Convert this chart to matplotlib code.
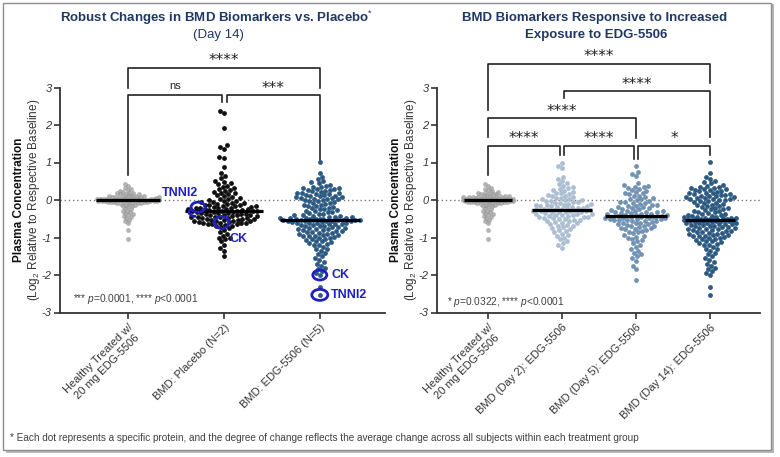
import numpy as np
import matplotlib
matplotlib.use('Agg')
import matplotlib.pyplot as plt
from matplotlib.patches import Ellipse, Arc, Rectangle

plt.rcParams['font.family'] = ['Liberation Sans', 'DejaVu Sans']
plt.rcParams['mathtext.fontset'] = 'custom'
plt.rcParams['mathtext.rm'] = 'Liberation Sans'
plt.rcParams['mathtext.it'] = 'Liberation Sans:italic'
plt.rcParams['mathtext.bf'] = 'Liberation Sans:bold'

# log2 change per protein
healthy = [0.42, 0.38, 0.33, 0.3, 0.28, 0.25, 0.22, 0.2, 0.2, 0.18, 0.17, 0.15, 0.15, 0.14,
           0.12, 0.12, 0.11, 0.1, 0.1, 0.09, 0.08, 0.08, 0.07, 0.07, 0.06, 0.06, 0.05, 0.05,
           0.05, 0.04, 0.04, 0.04, 0.03, 0.03, 0.03, 0.03, 0.02, 0.02, 0.02, 0.02, 0.01, 0.01,
           0.01, 0.01, 0.0, 0.0, 0.0, 0.0, 0.0, 0.0, -0.01, -0.01, -0.01, -0.01, -0.02, -0.02,
           -0.02, -0.02, -0.03, -0.03, -0.03, -0.04, -0.04, -0.04, -0.05, -0.05, -0.06, -0.06,
           -0.07, -0.07, -0.08, -0.09, -0.1, -0.11, -0.12, -0.13, -0.15, -0.17, -0.19, -0.22,
           -0.25, -0.28, -0.3, -0.33, -0.35, -0.38, -0.4, -0.43, -0.45, -0.48, -0.52, -0.56,
           -0.6, -0.8, -1.04]
placebo = [2.37, 2.33, 1.92, 1.47, 1.42, 1.37, 1.16, 1.13, 0.89, 0.72, 0.65, 0.58, 0.52, 0.48,
           0.45, 0.42, 0.38, 0.35, 0.33, 0.3, 0.28, 0.25, 0.22, 0.2, 0.18, 0.15, 0.13, 0.1,
           0.08, 0.05, 0.03, 0.02, 0.0, -0.02, -0.03, -0.05, -0.06, -0.08, -0.09, -0.1, -0.11,
           -0.12, -0.13, -0.14, -0.15, -0.16, -0.17, -0.18, -0.19, -0.2, -0.2, -0.21, -0.22,
           -0.23, -0.24, -0.25, -0.25, -0.26, -0.27, -0.28, -0.28, -0.29, -0.3, -0.3, -0.31,
           -0.32, -0.33, -0.34, -0.35, -0.35, -0.36, -0.37, -0.38, -0.39, -0.4, -0.4, -0.41,
           -0.42, -0.43, -0.44, -0.45, -0.45, -0.46, -0.47, -0.48, -0.49, -0.5, -0.5, -0.51,
           -0.52, -0.53, -0.54, -0.55, -0.55, -0.56, -0.57, -0.58, -0.59, -0.6, -0.6, -0.61,
           -0.62, -0.63, -0.64, -0.65, -0.66, -0.68, -0.7, -0.72, -0.75, -0.8, -0.85, -0.9,
           -0.95, -1.0, -1.02, -1.05, -1.1, -1.2, -1.28, -1.35, -1.49]
day2 = [0.98, 0.9, 0.85, 0.62, 0.55, 0.5, 0.45, 0.42, 0.38, 0.35, 0.32, 0.3, 0.28, 0.25, 0.22,
        0.2, 0.18, 0.16, 0.14, 0.12, 0.1, 0.08, 0.06, 0.05, 0.03, 0.02, 0.0, -0.01, -0.02,
        -0.03, -0.05, -0.06, -0.07, -0.08, -0.1, -0.11, -0.12, -0.13, -0.14, -0.15, -0.16,
        -0.17, -0.18, -0.19, -0.2, -0.21, -0.22, -0.23, -0.24, -0.25, -0.26, -0.26, -0.27,
        -0.27, -0.28, -0.28, -0.29, -0.3, -0.31, -0.32, -0.33, -0.34, -0.35, -0.36, -0.37,
        -0.38, -0.39, -0.4, -0.41, -0.42, -0.43, -0.44, -0.45, -0.46, -0.47, -0.48, -0.5,
        -0.51, -0.52, -0.53, -0.55, -0.56, -0.58, -0.6, -0.62, -0.64, -0.66, -0.68, -0.7,
        -0.72, -0.75, -0.78, -0.8, -0.83, -0.86, -0.9, -0.93, -0.96, -1.0, -1.05, -1.1,
        -1.15, -1.2, -1.27]
day5 = [0.9, 0.75, 0.7, 0.65, 0.45, 0.4, 0.38, 0.36, 0.35, 0.33, 0.3, 0.28, 0.25, 0.22, 0.2,
        0.18, 0.15, 0.12, 0.1, 0.08, 0.05, 0.03, 0.02, 0.0, -0.02, -0.04, -0.05, -0.07, -0.08,
        -0.1, -0.12, -0.13, -0.15, -0.16, -0.18, -0.19, -0.2, -0.22, -0.23, -0.25, -0.26,
        -0.28, -0.29, -0.3, -0.31, -0.32, -0.33, -0.34, -0.35, -0.36, -0.37, -0.38, -0.39,
        -0.4, -0.41, -0.42, -0.42, -0.43, -0.44, -0.44, -0.45, -0.45, -0.46, -0.47, -0.47,
        -0.48, -0.49, -0.5, -0.5, -0.51, -0.52, -0.52, -0.53, -0.55, -0.55, -0.56, -0.58,
        -0.6, -0.6, -0.62, -0.64, -0.65, -0.66, -0.68, -0.7, -0.7, -0.72, -0.74, -0.75,
        -0.76, -0.78, -0.8, -0.83, -0.85, -0.86, -0.89, -0.92, -0.95, -0.98, -1.0, -1.03,
        -1.06, -1.1, -1.15, -1.2, -1.25, -1.3, -1.35, -1.4, -1.45, -1.5, -1.55, -1.62,
        -1.75, -1.85, -2.13]
day14 = [1.02, 0.73, 0.62, 0.57, 0.5, 0.47, 0.45, 0.4, 0.38, 0.36, 0.35, 0.33, 0.32, 0.3, 0.3,
         0.28, 0.27, 0.25, 0.23, 0.22, 0.2, 0.2, 0.18, 0.17, 0.15, 0.14, 0.13, 0.12, 0.1, 0.1,
         0.08, 0.07, 0.06, 0.05, 0.04, 0.03, 0.02, 0.01, 0.0,
         -0.02, -0.03, -0.05, -0.07, -0.08, -0.1, -0.12, -0.13, -0.15, -0.17, -0.18, -0.2,
         -0.22, -0.23, -0.25, -0.27, -0.28, -0.3, -0.32, -0.33, -0.35, -0.37, -0.38, -0.4,
         -0.41, -0.42, -0.43, -0.44, -0.45, -0.46, -0.47, -0.48, -0.48, -0.49, -0.5, -0.5,
         -0.5, -0.51, -0.51, -0.52, -0.52, -0.52, -0.53, -0.53, -0.54, -0.54, -0.55, -0.55,
         -0.56, -0.56, -0.57, -0.58, -0.58, -0.6, -0.6, -0.62, -0.62, -0.63, -0.64, -0.65,
         -0.66, -0.67, -0.68, -0.7, -0.7, -0.72, -0.73, -0.74, -0.75, -0.76, -0.77, -0.78,
         -0.8, -0.8, -0.82, -0.83, -0.85, -0.85, -0.87, -0.88, -0.9, -0.9, -0.92, -0.93,
         -0.95, -0.95, -0.97, -0.98, -1.0, -1.0, -1.03, -1.05, -1.06, -1.1, -1.1, -1.13,
         -1.15, -1.17, -1.2, -1.2, -1.25, -1.3, -1.3, -1.35, -1.4, -1.45, -1.5, -1.55, -1.6,
         -1.65, -1.7, -1.75, -1.8, -1.85, -1.9, -1.95, -2.0, -2.33, -2.53]

left_labels = ['Healthy Treated w/\n20 mg EDG-5506', 'BMD: Placebo (N=2)', 'BMD: EDG-5506 (N=5)']
right_labels = ['Healthy Treated w/\n20 mg EDG-5506', 'BMD (Day 2): EDG-5506',
                'BMD (Day 5): EDG-5506', 'BMD (Day 14): EDG-5506']

# brackets: (x1, x2, y, left leg bottom, right leg bottom, label)
left_brackets = [(0, 2, 3.53, 3.0, 3.0, '****'),
                 (0, 0.975, 2.8, 0.67, 2.62, 'ns'),
                 (1.03, 2, 2.8, 2.62, 1.07, '***')]
right_brackets = [(0, 3, 3.64, 2.4, 3.11, '****'),
                  (1.03, 3, 2.91, 2.71, 1.67, '****'),
                  (0, 2, 2.18, 1.69, 1.65, '****'),
                  (0, 0.97, 1.45, 0.67, 1.2, '****'),
                  (1.03, 1.97, 1.45, 1.2, 1.09, '****'),
                  (2.03, 3, 1.45, 1.09, 1.2, '*')]

GREY = '#9b9b9b'
NAVY = '#1f3864'
BLUE = '#2020c0'
TXT = '#333333'


def swarm(ypx, d, half):
    order = np.argsort(ypx)
    px, py = [], []
    offs = np.zeros(len(ypx))
    for i in order:
        y = ypx[i]
        near = [(a, b) for a, b in zip(px, py) if abs(b - y) < d]
        cands = [0.0]
        for a, b in near:
            dx = np.sqrt(d * d - (b - y) ** 2)
            cands += [a - dx, a + dx]
        cands = sorted(cands, key=abs)
        best = None
        for c in cands:
            if abs(c) > half:
                continue
            if all((c - a) ** 2 + (y - b) ** 2 >= d * d - 1e-6 for a, b in near):
                best = c
                break
        if best is None:
            grid = np.linspace(-half, half, 25)
            score = [min(np.hypot(g - a, y - b) for a, b in near) - 0.01 * abs(g) for g in grid]
            best = grid[int(np.argmax(score))]
        offs[i] = best
        px.append(best)
        py.append(y)
    return offs


def draw_group(ax, values, pos, color, alpha, d, half, line_half):
    vals = np.asarray(values, float)
    pts = ax.transData.transform(np.column_stack([np.full(len(vals), pos), vals]))
    offs = swarm(pts[:, 1], d, half)
    xy = ax.transData.inverted().transform(np.column_stack([pts[:, 0] + offs, pts[:, 1]]))
    ax.scatter(xy[:, 0], vals, s=12, color=color, alpha=alpha, lw=0, zorder=3)
    med = np.median(vals)
    ax.plot([pos - line_half, pos + line_half], [med, med], color='black', lw=2.3,
            zorder=4, solid_capstyle='butt')


def draw_brackets(ax, brackets):
    for x1, x2, y, b1, b2, lab in brackets:
        ax.plot([x1, x1, x2, x2], [b1, y, y, b2], color='#222222', lw=1.2, clip_on=False,
                zorder=2)
        if lab == 'ns':
            ax.text((x1 + x2) / 2, y + 0.1, lab, ha='center', va='bottom', fontsize=8,
                    color='#222222')
        else:
            ax.text((x1 + x2) / 2, y - 0.02, lab, ha='center', va='bottom', fontsize=11,
                    color='#222222', family=['DejaVu Sans'])


def style_axes(ax, labels, xlim):
    ax.set_xlim(*xlim)
    ax.set_ylim(-3, 3)
    for s in ['top', 'right']:
        ax.spines[s].set_visible(False)
    for s in ['left', 'bottom']:
        ax.spines[s].set_color('#333333')
        ax.spines[s].set_linewidth(1.3)
    ax.set_yticks(range(-3, 4))
    ax.set_yticklabels([str(v) for v in range(-3, 4)], fontstyle='italic', fontsize=8,
                       color=TXT)
    ax.set_xticks(range(len(labels)))
    ax.set_xticklabels(labels, rotation=45, ha='right', va='top', rotation_mode='anchor',
                       fontsize=8, color=TXT, multialignment='center')
    ax.tick_params(axis='both', length=4, width=1.2, color='#333333', pad=2)
    ax.tick_params(axis='x', pad=3)
    ax.axhline(0, color='#777777', lw=1, ls=(0, (1, 2)), zorder=1)


fig = plt.figure(figsize=(7.8, 4.57), dpi=100)
W, H = 780.0, 457.0

# frame with shadow
fig.patches.append(Rectangle((6 / W, 1 - 453 / H), 768 / W, 449 / H, transform=fig.transFigure,
                             facecolor='#b8b8b8', edgecolor='none', zorder=-3))
fig.patches.append(Rectangle((3 / W, 1 - 450 / H), 768 / W, 447 / H, transform=fig.transFigure,
                             facecolor='white', edgecolor='#8c8c8c', lw=1, zorder=-2))

ax1 = fig.add_axes([60 / W, 1 - 312.5 / H, 325 / W, 225 / H])
ax2 = fig.add_axes([437 / W, 1 - 312.5 / H, 323 / W, 225 / H])
style_axes(ax1, left_labels, (-0.71, 2.68))
style_axes(ax2, right_labels, (-0.69, 3.68))

draw_group(ax1, healthy, 0, GREY, 0.75, 3.2, 31, 0.33)
draw_group(ax1, placebo, 1, '#111111', 1.0, 4.6, 39, 0.41)
draw_group(ax1, day14, 2, '#2d5a83', 1.0, 4.6, 40, 0.42)

draw_group(ax2, healthy, 0, GREY, 0.75, 3.2, 25, 0.33)
draw_group(ax2, day2, 1, '#a8bbd0', 0.95, 4.6, 31, 0.41)
draw_group(ax2, day5, 2, '#6b8db0', 0.95, 4.6, 31, 0.42)
draw_group(ax2, day14, 3, '#2d5a83', 1.0, 4.6, 26, 0.34)

draw_brackets(ax1, left_brackets)
draw_brackets(ax2, right_brackets)

# highlighted proteins
sx1 = 96.0
sy1 = 37.5
for (x, y, w, h) in [(0.73, -0.19, 14, 10), (0.976, -0.6, 15, 12), (2.0, -2.0, 14, 10),
                     (2.0, -2.53, 16, 11)]:
    ax1.add_patch(Ellipse((x, y), w / sx1, h / sy1, fill=False, edgecolor=BLUE, lw=2,
                          zorder=5, clip_on=False))
ax1.add_patch(Arc((0.71, -0.33), 14 / sx1, 8 / sy1, theta1=110, theta2=270, edgecolor=BLUE,
                  lw=2, zorder=5))
ax1.text(0.35, 0.19, 'TNNI2', color=BLUE, fontsize=9, fontweight='bold', ha='left',
         va='center')
ax1.text(1.06, -1.04, 'CK', color=BLUE, fontsize=9, fontweight='bold', ha='left', va='center')
ax1.text(2.12, -2.0, 'CK', color=BLUE, fontsize=9, fontweight='bold', ha='left', va='center')
ax1.text(2.12, -2.53, 'TNNI2', color=BLUE, fontsize=9, fontweight='bold', ha='left',
         va='center')

ax1.text(-0.57, -2.64, r'*** $\mathit{p}$=0.0001, **** $\mathit{p}$<0.0001', fontsize=7.3,
         color='#404040', ha='left', va='center')
ax2.text(-0.55, -2.71, r'* $\mathit{p}$=0.0322, **** $\mathit{p}$<0.0001', fontsize=7.3,
         color='#404040', ha='left', va='center')

# y labels
for xb, xn in [(19, 34), (396, 411)]:
    fig.text(xb / W, 1 - 200 / H, 'Plasma Concentration', rotation=90, ha='center',
             va='center', fontsize=8.5, fontweight='bold', color='#111111')
    fig.text(xn / W, 1 - 200 / H, r'(Log$_2$ Relative to Respective Baseline)', rotation=90,
             ha='center', va='center', fontsize=8.5, color=TXT)

# titles
fig.text(217 / W, 1 - 18 / H, r'Robust Changes in BMD Biomarkers vs. Placebo$^{*}$',
         ha='center', va='center', fontsize=9.5, fontweight='bold', color=NAVY)
fig.text(218 / W, 1 - 35 / H, '(Day 14)', ha='center', va='center', fontsize=9.5, color=NAVY)
fig.text(595 / W, 1 - 18 / H, 'BMD Biomarkers Responsive to Increased', ha='center',
         va='center', fontsize=9.5, fontweight='bold', color=NAVY)
fig.text(596 / W, 1 - 35 / H, 'Exposure to EDG-5506', ha='center', va='center', fontsize=9.5,
         fontweight='bold', color=NAVY)

fig.text(10 / W, 1 - 438 / H, '* Each dot represents a specific protein, and the degree of '
         'change reflects the average change across all subjects within each treatment group',
         ha='left', va='center', fontsize=7.2, color='#404040')

fig.savefig('out.png', dpi=100)
